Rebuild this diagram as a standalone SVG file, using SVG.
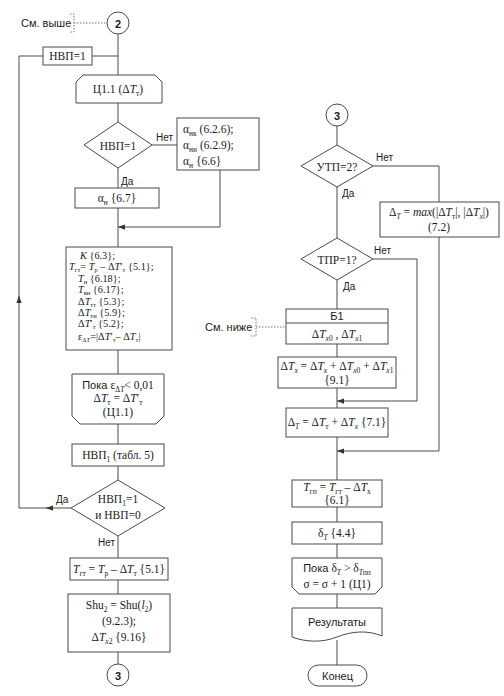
<svg xmlns="http://www.w3.org/2000/svg" width="504" height="696" viewBox="0 0 504 696">
<style>
.ln{fill:none;stroke:#4a4a4a;stroke-width:1}
.dot{fill:none;stroke:#777;stroke-width:1;stroke-dasharray:1.5 1.5}
.bx{fill:#fff;stroke:#4a4a4a;stroke-width:1}
.sf{font-family:"Liberation Serif","Times New Roman","DejaVu Serif",serif;font-size:11.5px;fill:#1a1a1a}
.ss{font-family:"Liberation Sans",Arial,sans-serif;font-size:11px;fill:#1a1a1a}
.lb{font-family:"Liberation Sans",Arial,sans-serif;font-size:10px;fill:#1a1a1a}
.c{text-anchor:middle}
.i{font-style:italic}
.s{font-size:7.5px;baseline-shift:-2.5px}
.cb{font-size:10.3px}
.cb .s{font-size:6.5px;baseline-shift:-1.5px}
</style>
<defs>
<marker id="arr" viewBox="0 0 8 8" refX="8" refY="4" markerWidth="7" markerHeight="7" markerUnits="userSpaceOnUse" orient="auto">
<path d="M0,1 L8,4 L0,7 Z" fill="#333"/>
</marker>
</defs>
<rect width="504" height="696" fill="#fff"/>

<g id="connectors">
<path class="dot" d="M70,14 H74 V32 H70 M74,23 H107"/>
<path class="dot" d="M251,318 H256 V336 H251 M256,327 H286"/>
<path class="ln" d="M118,34 V75 M92,56 H118"/>
<path class="ln" d="M118,103 V122 M152,145 H177 M118,168 V188 M118,208 V247"/>
<path class="ln" d="M220,170 V227 H118" marker-end="url(#arr)"/>
<path class="ln" d="M118,350 V374 M118,424 V444 M118,466 V480 M118,536 V558 M118,580 V594 M118,652 V664"/>
<path class="ln" d="M71,508 H46" marker-end="url(#arr)"/>
<path class="ln" d="M47,508 H19 V296" marker-end="url(#arr)"/>
<path class="ln" d="M19,298 V56 H43"/>
<path class="ln" d="M337,126 V145 M373,166 H439 V202 M337,187 V238 M337,280 V309 M337,344 V357 M337,388 V408 M337,437 V480 M337,507 V522 M337,544 V558 M337,594 V608 M337,640 V665"/>
<path class="ln" d="M439,237 V451 H337" marker-end="url(#arr)"/>
<path class="ln" d="M373,259 H417 V401 H337" marker-end="url(#arr)"/>
</g>

<g id="note-above">
<text class="ss" x="21" y="27">См. выше</text>
</g>
<g id="note-below">
<text class="ss" x="205" y="331">См. ниже</text>
</g>

<g id="conn2">
<circle class="bx" cx="118" cy="23" r="11"/>
<text class="ss c" x="118" y="27.5" font-weight="bold" font-size="12">2</text>
</g>
<g id="nvp-set">
<rect class="bx" x="43" y="47" width="49" height="18"/>
<text class="sf c" x="67.5" y="60">НВП=1</text>
</g>
<g id="loop-c11">
<path class="bx" d="M83,75 H155 L162,82 V103 H76 V82 Z"/>
<text class="sf c" x="118" y="93">Ц1.1 (Δ<tspan class="i">T</tspan><tspan class="s">т</tspan>)</text>
</g>
<g id="dec-nvp">
<polygon class="bx" points="118,122 152,145 118,168 84,145"/>
<text class="sf c" x="118" y="149.5" font-size="12">НВП=1</text>
<text class="lb" x="156" y="141">Нет</text>
<text class="lb" x="121" y="185">Да</text>
</g>
<g id="alpha-no">
<rect class="bx" x="177" y="118" width="82" height="52"/>
<text class="sf" x="183" y="133">α<tspan class="s">нк</tspan> (6.2.6);</text>
<text class="sf" x="183" y="149">α<tspan class="s">ни</tspan> (6.2.9);</text>
<text class="sf" x="183" y="165">α<tspan class="s">н</tspan> {6.6}</text>
</g>
<g id="alpha-yes">
<rect class="bx" x="75" y="188" width="84" height="20"/>
<text class="sf c" x="117" y="202">α<tspan class="s">н</tspan>  {6.7}</text>
</g>
<g id="calc-block">
<rect class="bx" x="66" y="247" width="106" height="103"/>
<text class="sf cb" x="80" y="259"><tspan class="i">K</tspan> {6.3};</text>
<text class="sf cb" x="69" y="270.4"><tspan class="i">T</tspan><tspan class="s">гт</tspan>= <tspan class="i">T</tspan><tspan class="s">р</tspan> – Δ<tspan class="i">T</tspan>′<tspan class="s">т</tspan> {5.1};</text>
<text class="sf cb" x="78" y="281.8"><tspan class="i">T</tspan><tspan class="s">н</tspan> {6.18};</text>
<text class="sf cb" x="78" y="293.2"><tspan class="i">T</tspan><tspan class="s">вн</tspan> {6.17};</text>
<text class="sf cb" x="78" y="304.6">Δ<tspan class="i">T</tspan><tspan class="s">тт</tspan> {5.3};</text>
<text class="sf cb" x="78" y="316">Δ<tspan class="i">T</tspan><tspan class="s">тн</tspan> {5.9};</text>
<text class="sf cb" x="78" y="327.4">Δ<tspan class="i">T</tspan>′<tspan class="s">т</tspan> {5.2};</text>
<text class="sf cb" x="78" y="339.8">ε<tspan class="s">Δ<tspan class="i">T</tspan></tspan>=|Δ<tspan class="i">T</tspan>′<tspan class="s">т</tspan>– Δ<tspan class="i">T</tspan><tspan class="s">т</tspan>|</text>
</g>
<g id="loop-c11-end">
<path class="bx" d="M72,374 H164 V416 L156,424 H80 L72,416 Z"/>
<text class="sf c" x="118" y="389"><tspan class="ss">Пока </tspan>ε<tspan class="s">Δ<tspan class="i">T</tspan></tspan>&lt; 0,01</text>
<text class="sf c" x="118" y="402">Δ<tspan class="i">T</tspan><tspan class="s">т</tspan> = Δ<tspan class="i">T</tspan>′<tspan class="s">т</tspan></text>
<text class="sf c" x="118" y="416">(Ц1.1)</text>
</g>
<g id="nvp1">
<rect class="bx" x="72" y="444" width="92" height="22"/>
<text class="sf c" x="118" y="459">НВП<tspan class="s">1</tspan> (табл. 5)</text>
</g>
<g id="dec-nvp1">
<polygon class="bx" points="118,480 165,508 118,536 71,508"/>
<text class="sf c" x="118" y="503" font-size="12">НВП<tspan class="s">1</tspan>=1</text>
<text class="sf c" x="118" y="519" font-size="12">и  НВП=0</text>
<text class="lb" x="56" y="503">Да</text>
<text class="lb" x="98" y="546">Нет</text>
</g>
<g id="tgt">
<rect class="bx" x="70" y="558" width="98" height="22"/>
<text class="sf c" x="119" y="573"><tspan class="i">T</tspan><tspan class="s">гт</tspan> = <tspan class="i">T</tspan><tspan class="s">р</tspan> – Δ<tspan class="i">T</tspan><tspan class="s">т</tspan> {5.1}</text>
</g>
<g id="shu">
<rect class="bx" x="68" y="594" width="102" height="58"/>
<text class="sf c" x="119" y="609">Shu<tspan class="s">2</tspan> = Shu(<tspan class="i">l</tspan><tspan class="s">2</tspan>)</text>
<text class="sf c" x="119" y="625">(9.2.3);</text>
<text class="sf c" x="119" y="641">Δ<tspan class="i">T</tspan><tspan class="s i">x</tspan><tspan class="s">2</tspan>  {9.16}</text>
</g>
<g id="conn3-left">
<circle class="bx" cx="118" cy="675" r="11"/>
<text class="ss c" x="118" y="679.5" font-weight="bold" font-size="12">3</text>
</g>

<g id="conn3-right">
<circle class="bx" cx="337" cy="115" r="11"/>
<text class="ss c" x="337" y="119.5" font-weight="bold" font-size="12">3</text>
</g>
<g id="dec-utp">
<polygon class="bx" points="337,145 373,166 337,187 301,166"/>
<text class="sf c" x="337" y="170.5" font-size="12">УТП=2?</text>
<text class="lb" x="376" y="161">Нет</text>
<text class="lb" x="342" y="197">Да</text>
</g>
<g id="max-box">
<rect class="bx" x="380" y="202" width="119" height="35"/>
<text class="sf c" x="439" y="216">Δ<tspan class="s i">T</tspan> = <tspan class="i">max</tspan>(|Δ<tspan class="i">T</tspan><tspan class="s">т</tspan>|, |Δ<tspan class="i">T</tspan><tspan class="s i">x</tspan>|)</text>
<text class="sf c" x="439" y="231">(7.2)</text>
</g>
<g id="dec-tpr">
<polygon class="bx" points="337,238 373,259 337,280 301,259"/>
<text class="sf c" x="337" y="263.5" font-size="12">ТПР=1?</text>
<text class="lb" x="374" y="254">Нет</text>
<text class="lb" x="343" y="290">Да</text>
</g>
<g id="b1">
<rect class="bx" x="286" y="309" width="102" height="35"/>
<path class="ln" d="M286,323 H388"/>
<text class="ss c" x="337" y="320">Б1</text>
<text class="sf c" x="337" y="338">Δ<tspan class="i">T</tspan><tspan class="s i">x</tspan><tspan class="s">0</tspan> ,  Δ<tspan class="i">T</tspan><tspan class="s i">x</tspan><tspan class="s">1</tspan></text>
</g>
<g id="dtx">
<rect class="bx" x="278" y="357" width="118" height="31"/>
<text class="sf c" x="337" y="370">Δ<tspan class="i">T<tspan class="s">x</tspan></tspan> = Δ<tspan class="i">T<tspan class="s">x</tspan></tspan> + Δ<tspan class="i">T<tspan class="s">x</tspan></tspan><tspan class="s">0</tspan> + Δ<tspan class="i">T<tspan class="s">x</tspan></tspan><tspan class="s">1</tspan></text>
<text class="sf c" x="337" y="384">{9.1}</text>
</g>
<g id="dt">
<rect class="bx" x="286" y="408" width="102" height="29"/>
<text class="sf c" x="337" y="426">Δ<tspan class="s i">T</tspan> = Δ<tspan class="i">T</tspan><tspan class="s">т</tspan> + Δ<tspan class="i">T<tspan class="s">x</tspan></tspan>  {7.1}</text>
</g>
<g id="tgp">
<rect class="bx" x="292" y="480" width="90" height="27"/>
<text class="sf c" x="337" y="491"><tspan class="i">T</tspan><tspan class="s">гп</tspan> = <tspan class="i">T</tspan><tspan class="s">гт</tspan> – Δ<tspan class="i">T</tspan><tspan class="s">x</tspan></text>
<text class="sf c" x="337" y="504">{6.1}</text>
</g>
<g id="delta-t">
<rect class="bx" x="292" y="522" width="90" height="22"/>
<text class="sf c" x="337" y="537">δ<tspan class="s i">T</tspan>  {4.4}</text>
</g>
<g id="loop-c1-end">
<path class="bx" d="M292,558 H382 V587 L375,594 H299 L292,587 Z"/>
<text class="sf c" x="337" y="572"><tspan class="ss">Пока </tspan>δ<tspan class="s i">T</tspan> &gt; δ<tspan class="s"><tspan class="i">T</tspan>пп</tspan></text>
<text class="sf c" x="337" y="588">σ = σ + 1  (Ц1)</text>
</g>
<g id="results">
<path class="bx" d="M292,608 H382 V636 C368,630 352,631 337,637 C322,643 305,642 292,637 Z"/>
<text class="ss c" x="337" y="626" font-size="12">Результаты</text>
</g>
<g id="end">
<rect class="bx" x="308" y="665" width="59" height="21" rx="10.5"/>
<text class="ss c" x="337.5" y="680" font-size="12">Конец</text>
</g>
</svg>
